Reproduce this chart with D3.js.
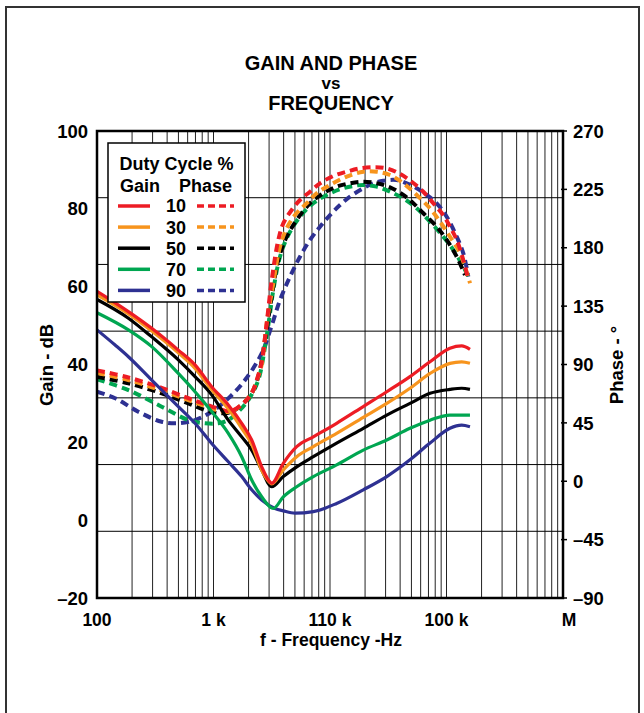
<!DOCTYPE html>
<html><head><meta charset="utf-8">
<script src="https://cdn.jsdelivr.net/npm/d3@7"></script>
<style>
body{margin:0;background:#fff}
svg text{font-family:"Liberation Sans",Arial,Helvetica,sans-serif;font-weight:bold;fill:#000}
</style>
</head><body>
<svg id="c" width="644" height="713"></svg>
<script>
// ---- data ----
const dutyCycles = ["10", "30", "50", "70", "90"];
const seriesColors = ["#ed1c24", "#f7941d", "#000000", "#00a651", "#2e3192"];
const freqTicks = [100, 1e3, 1e4, 1e5, 1e6];
const freqTickLabels = ["100", "1 k", "110 k", "100 k", "M"];
const gainTicks = [-20, 0, 20, 40, 60, 80, 100];
const gainTickLabels = ["–20", "0", "20", "40", "60", "80", "100"];
const phaseTicks = [-90, -45, 0, 45, 90, 135, 180, 225, 270];
const phaseTickLabels = ["–90", "–45", "0", "45", "90", "135", "180", "225", "270"];

// [frequency Hz, gain dB]
const gain10 = [[100,58.8],[186,53.6],[295,49.3],[499,43.7],[694,39.9],[965,34.3],[1340,29.6],[1746,24.9],[2128,20.6],[2593,13.7],[3055,9.8],[3160,9.5],[3973,14.6],[5177,18.9],[7190,21.4],[11400,24.9],[19300,29.2],[30700,33.0],[48600,36.9],[72200,40.7],[107000,44.2],[135000,44.8],[159000,43.9]];
const gain30 = [[100,57.9],[186,53.0],[295,48.6],[499,43.0],[694,39.0],[965,33.5],[1340,28.6],[1746,23.6],[2128,19.5],[2593,12.8],[3055,9.6],[3160,9.3],[3973,12.9],[5177,16.3],[7190,18.9],[11400,22.3],[19300,26.4],[30700,30.0],[48600,33.9],[72200,37.7],[107000,40.3],[135000,40.7],[159000,40.3]];
const gain50 = [[100,56.7],[186,51.9],[295,47.1],[499,41.2],[694,36.9],[965,32.2],[1340,25.7],[1746,21.4],[2128,18.0],[2593,12.9],[3160,8.6],[3973,11.2],[5177,13.7],[7190,16.3],[11400,19.8],[19300,23.6],[30700,27.0],[48600,30.0],[72200,32.6],[107000,33.6],[135000,33.9],[159000,33.6]];
const gain70 = [[100,53.3],[186,48.9],[295,44.6],[499,37.7],[694,33.0],[965,27.9],[1340,22.3],[1746,16.3],[2128,10.3],[2593,6.0],[3262,3.0],[3973,6.0],[5177,8.6],[7190,11.2],[11400,14.2],[19300,18.0],[30700,20.6],[48600,23.6],[72200,25.7],[107000,27.0],[159000,27.0]];
const gain90 = [[100,48.9],[143,45.0],[186,42.0],[295,36.0],[499,29.2],[694,24.9],[965,19.7],[1340,15.0],[1746,11.2],[2128,7.8],[2593,5.2],[3372,3.0],[3973,2.4],[5006,1.8],[7190,2.2],[11400,4.3],[19300,7.8],[30700,11.2],[48600,15.5],[72200,19.8],[107000,23.6],[135000,24.4],[159000,24.0]];

// [frequency Hz, phase deg]
const phase10 = [[100,85.5],[186,80],[359,72],[608,64],[846,59.5],[1100,56],[1386,54],[1746,59],[2128,68],[2424,82],[2593,92],[2862,122],[3160,155],[3599,186],[3973,198.8],[4691,209.1],[5526,216.8],[6735,223.2],[8208,229.7],[10674,235.3],[13910,238.6],[18090,241.2],[23530,242.0],[30680,241.2],[39900,236.9],[50270,230.9],[63230,223.2],[77030,214.3],[93860,205.2],[107200,196.2],[122400,186.0],[139400,170.6],[153900,155.1]];
const phase30 = [[100,83.5],[186,78],[359,70],[608,62.5],[846,58],[1100,54.5],[1386,53.5],[1746,59],[2128,68],[2424,81],[2593,90],[2862,121.8],[3262,152.6],[3723,180.8],[4249,195.0],[5006,205.2],[6310,214.3],[7687,222.0],[10000,228.4],[13910,234.8],[19320,238.6],[25170,238.6],[32730,236.1],[42580,229.7],[55500,220.7],[72150,210.4],[87960,200.1],[107200,188.5],[130600,175.7],[159200,152.6]];
const phase50 = [[100,80.6],[186,75.5],[359,67.8],[608,60.0],[846,54.9],[1100,52.4],[1433,53.6],[1746,58.8],[2128,67.8],[2424,80.6],[2768,109],[3055,134],[3160,142.3],[3599,170.6],[4249,188.5],[5177,201.4],[6735,214.3],[8762,222.0],[11418,227.1],[14850,229.7],[19320,230.9],[25170,229.7],[32730,226.6],[42580,220.7],[51880,214.3],[63230,206.6],[82390,196.2],[100400,186.0],[122400,173.1],[144100,159.0]];
const phase70 = [[100,78.6],[186,70.3],[359,57.5],[608,47.2],[846,44.7],[1100,44.7],[1340,47.2],[1633,53.6],[1990,62.6],[2424,78.0],[2768,103.7],[3055,129.5],[3262,147.4],[3723,173.1],[4386,189.8],[5526,203.9],[7190,214.3],[9369,220.7],[12180,225.1],[15850,227.6],[19320,228.4],[25170,227.1],[32730,223.2],[42580,218.1],[55500,210.4],[72150,200.1],[93860,188.5],[114400,178.3],[139400,165.4],[159200,155.1]];
const phase90 = [[100,69],[143,64],[226,53.6],[359,45.9],[499,44.7],[694,47.2],[965,53.6],[1340,63.9],[1864,78.0],[2593,98.6],[3160,120],[3723,139.7],[4536,157.7],[5526,173.1],[6735,186.0],[8208,196.2],[10000,205.2],[12180,212.9],[14850,219.4],[19320,225.8],[23530,229.7],[28680,231.7],[37370,232.2],[45530,229.7],[55500,225.8],[67600,220.7],[82390,214.3],[100400,203.9],[122400,188.5],[139400,175.7],[153900,157.7]];

const gainSeries = [gain10, gain30, gain50, gain70, gain90];
const phaseSeries = [phase10, phase30, phase50, phase70, phase90];

// ---- layout ----
const L = 97, R = 563, T = 131, B = 598;
const svg = d3.select("#c");
const x = d3.scaleLog().domain([100, 1e6]).range([L, R]);
const yG = d3.scaleLinear().domain([-20, 100]).range([B, T]);
const yP = d3.scaleLinear().domain([-90, 270]).range([B, T]);

// outer frame
svg.append("rect").attr("x", 6).attr("y", 7).attr("width", 633).attr("height", 720)
  .attr("fill", "none").attr("stroke", "#333").attr("stroke-width", 2);

// title
const title = svg.append("text").attr("text-anchor", "middle").attr("font-size", 20);
title.append("tspan").attr("x", 331).attr("y", 70).text("GAIN AND PHASE");
title.append("tspan").attr("x", 331).attr("y", 89).attr("font-size", 17).text("vs");
title.append("tspan").attr("x", 331).attr("y", 110).text("FREQUENCY");

// grid: vertical
const vgrid = [];
for (let k = 2; k < 6; k++) for (let n = 1; n < 10; n++) vgrid.push(n * Math.pow(10, k));
svg.append("g").selectAll("line").data(vgrid).join("line")
  .attr("x1", d => x(d)).attr("x2", d => x(d)).attr("y1", T).attr("y2", B)
  .attr("stroke", "#222").attr("stroke-width", 1);
// grid: horizontal, 7 equal divisions
const hgrid = d3.range(1, 7).map(i => -20 + i * 120 / 7);
svg.append("g").selectAll("line").data(hgrid).join("line")
  .attr("x1", L).attr("x2", R).attr("y1", d => yG(d)).attr("y2", d => yG(d))
  .attr("stroke", "#000").attr("stroke-width", 1);

// curves
const lineG = d3.line().x(d => x(d[0])).y(d => yG(d[1])).curve(d3.curveMonotoneX);
const lineP = d3.line().x(d => x(d[0])).y(d => yP(d[1])).curve(d3.curveCatmullRom.alpha(0.5));
const order = [4, 3, 2, 1, 0];
order.forEach(i => {
  svg.append("path").attr("d", lineP(phaseSeries[i])).attr("fill", "none")
    .attr("stroke", seriesColors[i]).attr("stroke-width", 4).attr("stroke-dasharray", "8,5");
});
order.forEach(i => {
  svg.append("path").attr("d", lineG(gainSeries[i])).attr("fill", "none")
    .attr("stroke", seriesColors[i]).attr("stroke-width", 3.2).attr("stroke-linejoin", "round");
});

// axes frame
svg.append("rect").attr("x", L).attr("y", T).attr("width", R - L).attr("height", B - T)
  .attr("fill", "none").attr("stroke", "#000").attr("stroke-width", 2.5);

// left axis labels
const ax = svg.append("g");
ax.selectAll("text.gl").data(gainTicks).join("text").attr("class", "gl")
  .attr("x", 88).attr("y", d => yG(d)).attr("dy", "0.36em").attr("text-anchor", "end")
  .attr("font-size", 18.5).text((d, i) => gainTickLabels[i]);
// right axis ticks and labels
ax.selectAll("line.pt").data(phaseTicks).join("line").attr("class", "pt")
  .attr("x1", R - 2).attr("x2", R + 4).attr("y1", d => yP(d)).attr("y2", d => yP(d))
  .attr("stroke", "#000").attr("stroke-width", 1.5);
ax.selectAll("text.pl").data(phaseTicks).join("text").attr("class", "pl")
  .attr("x", 573).attr("y", d => yP(d)).attr("dy", "0.36em").attr("text-anchor", "start")
  .attr("font-size", 18.5).text((d, i) => phaseTickLabels[i]);
// bottom labels
ax.selectAll("text.fl").data(freqTicks).join("text").attr("class", "fl")
  .attr("x", d => x(d)).attr("dx", (d, i) => i === freqTicks.length - 1 ? 6 : 0)
  .attr("y", 625.5).attr("text-anchor", "middle")
  .attr("font-size", 17.5).text((d, i) => freqTickLabels[i]);

// axis titles
svg.append("text").attr("x", 331).attr("y", 646).attr("text-anchor", "middle")
  .attr("font-size", 17.5).text("f - Frequency -Hz");
svg.append("text").attr("transform", "translate(53,365) rotate(-90)").attr("text-anchor", "middle")
  .attr("font-size", 18.5).text("Gain - dB");
svg.append("text").attr("transform", "translate(623,365) rotate(-90)").attr("text-anchor", "middle")
  .attr("font-size", 18.5).text("Phase - °");

// legend
const lg = svg.append("g");
lg.append("rect").attr("x", 108).attr("y", 143).attr("width", 137).attr("height", 159)
  .attr("fill", "#fff").attr("stroke", "#000").attr("stroke-width", 1.5);
lg.append("text").attr("x", 176.5).attr("y", 170).attr("text-anchor", "middle").attr("font-size", 18).text("Duty Cycle %");
lg.append("text").attr("x", 140).attr("y", 192).attr("text-anchor", "middle").attr("font-size", 18).text("Gain");
lg.append("text").attr("x", 205.5).attr("y", 192).attr("text-anchor", "middle").attr("font-size", 18).text("Phase");
dutyCycles.forEach((dc, i) => {
  const yy = 206 + i * 21.1;
  lg.append("line").attr("x1", 118).attr("x2", 150).attr("y1", yy).attr("y2", yy)
    .attr("stroke", seriesColors[i]).attr("stroke-width", 3.5);
  lg.append("line").attr("x1", 197).attr("x2", 234).attr("y1", yy).attr("y2", yy)
    .attr("stroke", seriesColors[i]).attr("stroke-width", 3.5).attr("stroke-dasharray", "7,4");
  lg.append("text").attr("x", 176).attr("y", yy).attr("dy", "0.36em").attr("text-anchor", "middle")
    .attr("font-size", 18).text(dc);
});
</script>
</body></html>
